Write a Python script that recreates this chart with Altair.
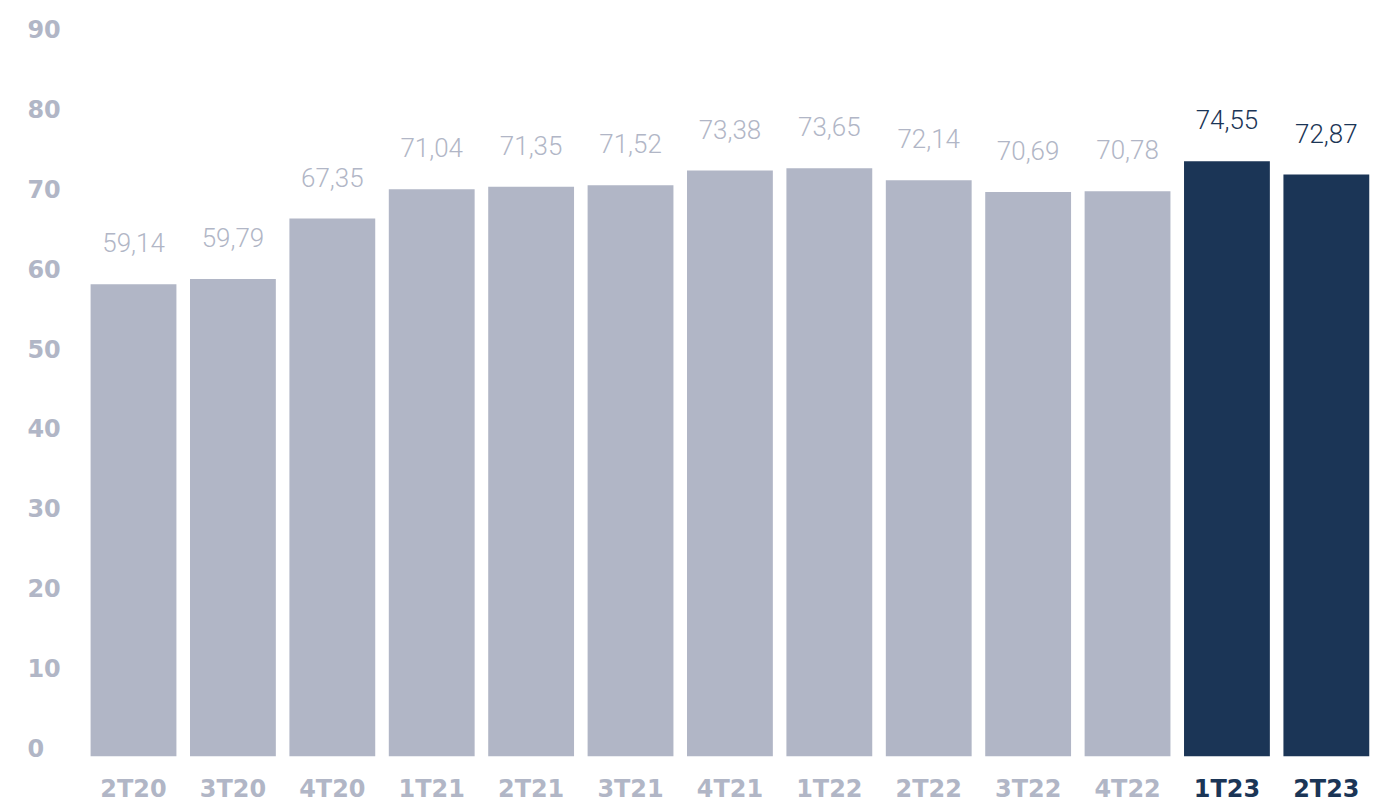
import altair as alt
import pandas as pd

quarters = ["2T20", "3T20", "4T20", "1T21", "2T21", "3T21", "4T21",
            "1T22", "2T22", "3T22", "4T22", "1T23", "2T23"]
values = [59.14, 59.79, 67.35, 71.04, 71.35, 71.52, 73.38,
          73.65, 72.14, 70.69, 70.78, 74.55, 72.87]
highlight = ["no"] * 11 + ["yes"] * 2
labels = [f"{v:.2f}".replace(".", ",") for v in values]

GRAY = "#b1b6c6"
NAVY = "#1b3556"

df = pd.DataFrame({"q": quarters, "v": values, "h": highlight, "lab": labels})

x = alt.X(
    "q:N", sort=quarters, title=None,
    scale=alt.Scale(paddingInner=0.1365, paddingOuter=0.068),
    axis=alt.Axis(
        labelAngle=0, domain=False, ticks=False, tickSize=0, grid=False,
        labelFont="DejaVu Sans", labelFontWeight="bold", labelFontSize=24,
        labelBaseline="alphabetic", labelPadding=40,
        labelColor=alt.ExprRef(
            expr=f"(datum.value == '1T23' || datum.value == '2T23') ? '{NAVY}' : '{GRAY}'"
        ),
    ),
)
y = alt.Y(
    "v:Q", title=None,
    scale=alt.Scale(domain=[0, 90], nice=False, zero=True),
    axis=alt.Axis(
        values=list(range(0, 91, 10)), domain=False, ticks=False, tickSize=0,
        grid=False, labelFont="DejaVu Sans", labelFontWeight="bold",
        labelFontSize=24, labelColor=GRAY, labelAlign="left",
        labelBaseline="alphabetic", labelPadding=57,
    ),
)
color = alt.Color("h:N", scale=alt.Scale(domain=["no", "yes"], range=[GRAY, NAVY]), legend=None)

bars = alt.Chart(df).mark_bar().encode(x=x, y=y, color=color)
text = alt.Chart(df).mark_text(
    font="Roboto", fontWeight=300, fontSize=26, baseline="alphabetic", dy=-32
).encode(x=x, y=y, text="lab:N", color=color)

chart = (
    alt.layer(bars, text)
    .properties(
        width=1295, height=720,
        autosize=alt.AutoSizeParams(type="none"),
        padding={"left": 76, "top": 29, "right": 10, "bottom": 47},
    )
    .configure_view(stroke=None)
)

chart.save("out.html", embed_options={"renderer": "svg", "actions": False})
